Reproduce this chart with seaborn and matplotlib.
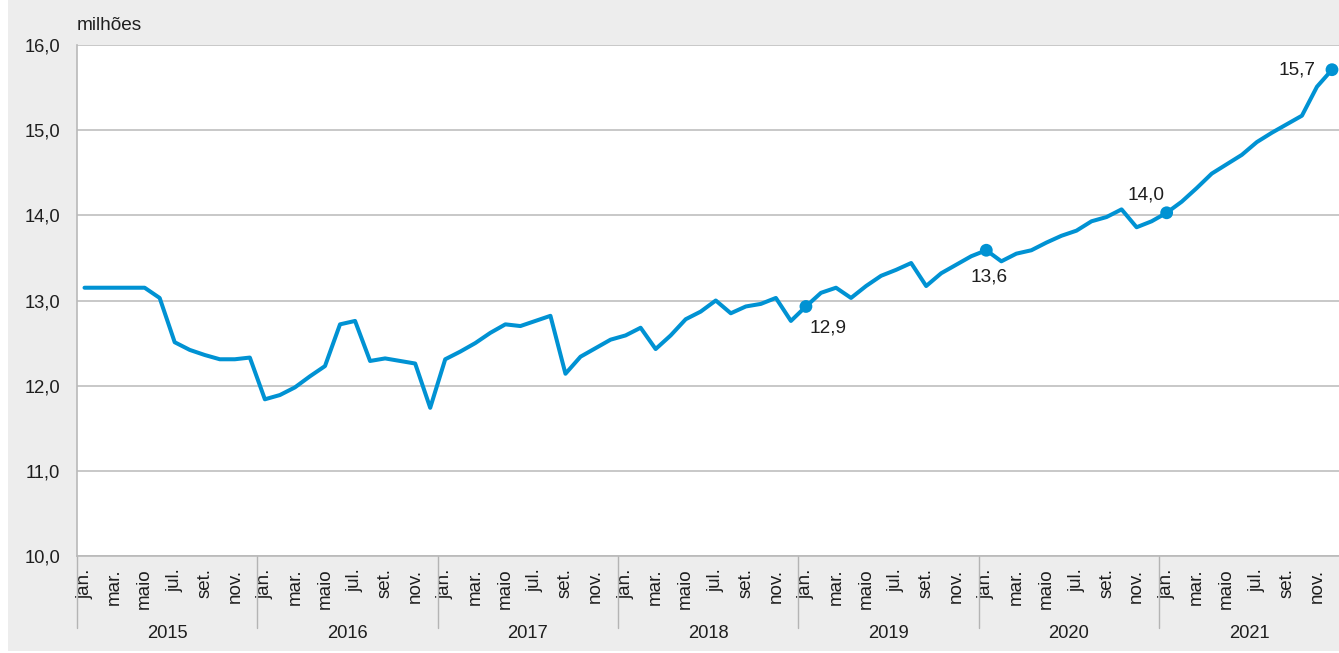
import matplotlib
matplotlib.use("Agg")
import matplotlib.pyplot as plt
import matplotlib.transforms as mtransforms
from matplotlib.patches import Rectangle
from matplotlib.ticker import FixedLocator, FuncFormatter
import numpy as np
import pandas as pd
import seaborn as sns

# Monthly series, Jan 2015 - Dec 2021 (millions)
years = [2015, 2016, 2017, 2018, 2019, 2020, 2021]
month_labels = ["jan.", "", "mar.", "", "maio", "", "jul.", "", "set.", "", "nov.", ""]
values_2015 = [13.15, 13.15, 13.15, 13.15, 13.15, 13.03, 12.51, 12.42, 12.36, 12.31, 12.31, 12.33]
values_2016 = [11.84, 11.89, 11.98, 12.11, 12.23, 12.72, 12.76, 12.29, 12.32, 12.29, 12.26, 11.74]
values_2017 = [12.31, 12.40, 12.50, 12.62, 12.72, 12.70, 12.76, 12.82, 12.14, 12.34, 12.44, 12.54]
values_2018 = [12.59, 12.68, 12.43, 12.59, 12.78, 12.87, 13.00, 12.85, 12.93, 12.96, 13.03, 12.76]
values_2019 = [12.93, 13.09, 13.15, 13.03, 13.17, 13.29, 13.36, 13.44, 13.17, 13.32, 13.42, 13.52]
values_2020 = [13.59, 13.46, 13.55, 13.59, 13.68, 13.76, 13.82, 13.93, 13.98, 14.07, 13.86, 13.93]
values_2021 = [14.03, 14.16, 14.32, 14.49, 14.60, 14.71, 14.86, 14.97, 15.07, 15.17, 15.51, 15.71]
highlighted = [48, 60, 72, 83]  # positions of the labelled points

values = values_2015 + values_2016 + values_2017 + values_2018 + values_2019 + values_2020 + values_2021
df = pd.DataFrame({"pos": np.arange(len(values)), "valor": values})

BLUE = "#0092d3"
GRID = "#b9b9b9"
BG = "#ededed"
TXT = "#1e1e1e"
FS = 13.2

sns.set_style("white")
plt.rcParams["font.family"] = ["Liberation Sans", "DejaVu Sans"]
plt.rcParams["font.size"] = FS

W, H = 1339, 653
fig = plt.figure(figsize=(W / 100, H / 100), dpi=100, facecolor="white")
fig.patches.append(Rectangle((8 / W, 2 / H), 1, 1, transform=fig.transFigure,
                             facecolor=BG, edgecolor="none", zorder=-10))

left, bottom, top = 77, 556, 45
ax = fig.add_axes([left / W, 1 - bottom / H, (1339.5 - left) / W, (bottom - top) / H])
ax.set_facecolor("white")

sns.lineplot(data=df, x="pos", y="valor", ax=ax, color=BLUE, linewidth=2.9,
             zorder=3, clip_on=False)
hl = df.iloc[highlighted]
sns.scatterplot(data=hl, x="pos", y="valor", ax=ax, color=BLUE, s=85,
                edgecolor="none", zorder=4, clip_on=False)

# value labels
offsets = {48: ((4, -22), "left", "center"),
           60: ((3, -27), "center", "center"),
           72: ((-21, 18), "center", "center"),
           83: ((-16, 0), "right", "center")}
for p in highlighted:
    v = values[p]
    (dx, dy), ha, va = offsets[p]
    ax.annotate(f"{v:.1f}".replace(".", ","), (p, v), xytext=(dx, dy),
                textcoords="offset pixels", ha=ha, va=va, color=TXT, fontsize=FS + 0.5)

n = len(values)
ax.set_xlim(-0.5, n - 0.5)
ax.set_ylim(10, 16)
ax.set_xlabel("")
ax.set_ylabel("")

# y axis
ax.set_yticks(np.arange(10, 16.1, 1))
ax.yaxis.set_major_formatter(FuncFormatter(lambda v, _: f"{v:.1f}".replace(".", ",")))
ax.tick_params(axis="y", length=0, pad=12, labelcolor=TXT, labelsize=FS)
ax.grid(axis="y", color=GRID, linewidth=1.1, zorder=0)
ax.grid(axis="x", visible=False)

# x axis: month labels centred in each month cell, boundaries as minor ticks
ax.xaxis.set_major_locator(FixedLocator(np.arange(n)))
ax.set_xticklabels([month_labels[i % 12] for i in range(n)], rotation=90,
                   color=TXT, fontsize=FS + 0.3)
ax.tick_params(axis="x", which="major", length=0, pad=9)
ax.xaxis.set_minor_locator(FixedLocator(np.arange(n + 1) - 0.5))
ax.tick_params(axis="x", which="minor", length=31.5, width=1, color="#c4c4c4",
               direction="out")

# year separators and year labels below the month labels
trans = mtransforms.blended_transform_factory(ax.transData, ax.transAxes)
axh = bottom - top
for k, yr in enumerate(years):
    x0 = k * 12 - 0.5
    ax.plot([x0, x0], [0, -72 / axh], transform=trans, color="#b4b4b4",
            linewidth=1, clip_on=False)
    ax.text(x0 + 6, -(634 - bottom) / axh, str(yr), transform=trans,
            ha="center", va="center", color=TXT, fontsize=FS)

for side in ["top", "right"]:
    ax.spines[side].set_visible(False)
for side in ["left", "bottom"]:
    ax.spines[side].set_color(GRID)
    ax.spines[side].set_linewidth(1.2)

ax.text(0, 1 + 19 / axh, "milhões", transform=ax.transAxes, ha="left",
        va="center", color=TXT, fontsize=FS + 0.5)

fig.savefig("out.png", dpi=100, facecolor=fig.get_facecolor())
